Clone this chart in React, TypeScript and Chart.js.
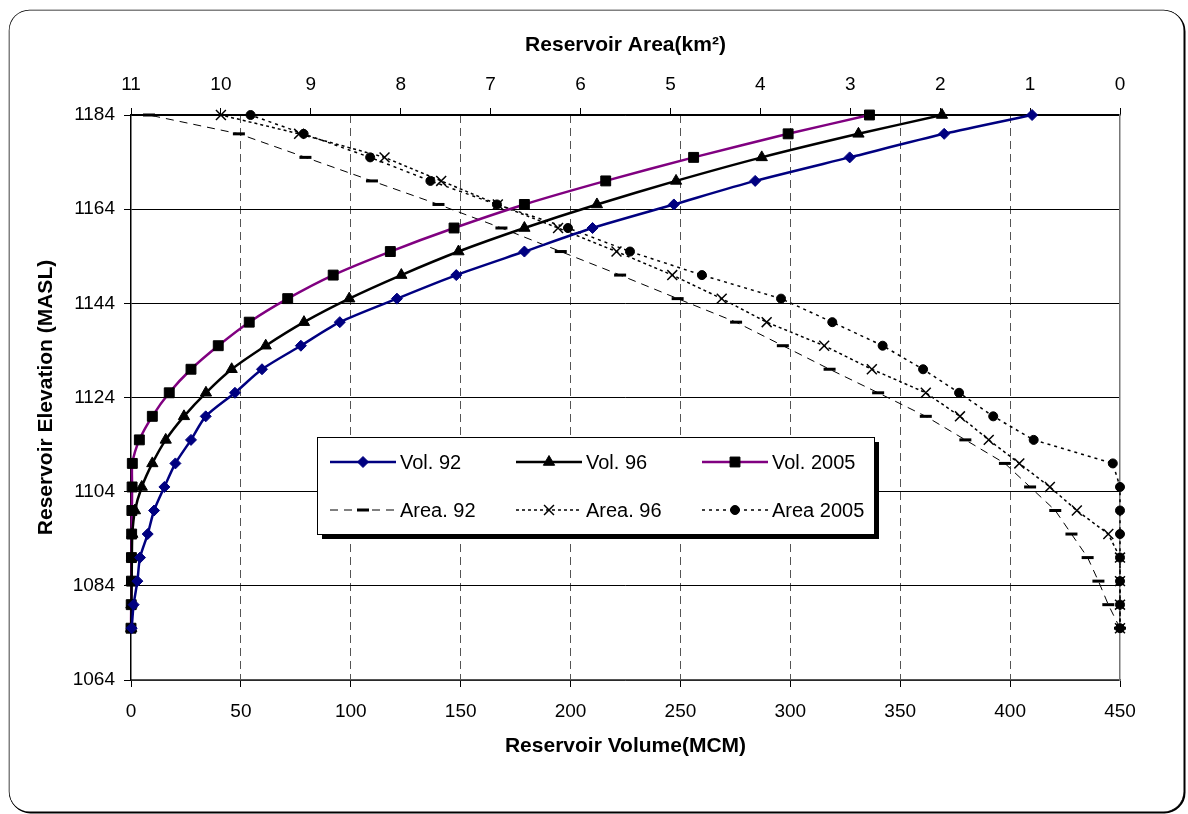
import React, { useEffect, useRef } from 'react';
import { Chart, registerables } from 'chart.js';
import { drawPoint } from 'chart.js/helpers';

Chart.register(...registerables);

// Elevation levels (MASL) for all series
const elevations = [1075, 1080, 1085, 1090, 1095, 1100, 1105, 1110, 1115, 1120, 1125, 1130, 1135, 1140, 1145, 1150, 1155, 1160, 1165, 1170, 1175, 1180, 1184];

// Reservoir volume (MCM)
const vol92 = [0.3, 1.2, 2.9, 4.1, 7.6, 10.5, 15.2, 20.2, 27.3, 34, 47.3, 59.6, 77.3, 95, 121, 148, 179, 210, 247, 284, 327, 370, 410];
const vol96 = [0.1, 0.2, 0.3, 0.4, 0.6, 1.8, 4.9, 9.7, 15.8, 24.1, 34.1, 45.8, 61.3, 78.7, 99.3, 123, 149, 179, 212, 248, 287, 331, 369];
const vol2005 = [0, 0.1, 0.2, 0.2, 0.3, 0.4, 0.5, 0.6, 3.8, 9.7, 17.4, 27.3, 39.7, 53.8, 71.3, 92, 118, 147, 179, 216, 256, 299, 336];

// Reservoir area (km2)
const area92 = [0, 0.13, 0.24, 0.36, 0.54, 0.72, 1.0, 1.28, 1.72, 2.16, 2.69, 3.23, 3.75, 4.27, 4.92, 5.56, 6.22, 6.88, 7.58, 8.32, 9.06, 9.8, 10.8];
const area96 = [0, 0, 0, 0, 0.13, 0.48, 0.78, 1.12, 1.46, 1.78, 2.16, 2.76, 3.29, 3.93, 4.43, 4.98, 5.6, 6.25, 6.92, 7.55, 8.18, 9.13, 10.0];
const area2005 = [0, 0, 0, 0, 0, 0, 0, 0.08, 0.96, 1.41, 1.79, 2.19, 2.64, 3.2, 3.77, 4.65, 5.45, 6.14, 6.93, 7.67, 8.34, 9.08, 9.67];

// Tick values
const volumeTicks = [0, 50, 100, 150, 200, 250, 300, 350, 400, 450];
const areaTicks = [0, 1, 2, 3, 4, 5, 6, 7, 8, 9, 10, 11];
const elevationTicks = [1064, 1084, 1104, 1124, 1144, 1164, 1184];

const seriesLabels = ['Vol. 92', 'Vol. 96', 'Vol. 2005', 'Area. 92', 'Area. 96', 'Area 2005'];

const FONT = '"Liberation Sans", Arial, Helvetica, sans-serif';

const toPoints = (xs: number[]) => xs.map((x, i) => ({ x, y: elevations[i] }));

const framePlugin = {
  id: 'frame',
  beforeDraw(chart: any) {
    const ctx = chart.ctx;
    ctx.save();
    ctx.fillStyle = '#fff';
    ctx.fillRect(0, 0, chart.width, chart.height);
    ctx.strokeStyle = '#000';
    ctx.lineWidth = 2;
    ctx.beginPath();
    ctx.roundRect(10.5, 11.5, 1174, 801, 20);
    ctx.stroke();
    ctx.lineWidth = 1.5;
    ctx.beginPath();
    ctx.roundRect(9.5, 10.5, 1174, 801, 20);
    ctx.stroke();
    ctx.fillStyle = '#fff';
    ctx.fill();
    ctx.restore();
  },
};

const legendPlugin = {
  id: 'boxLegend',
  afterDatasetsDraw(chart: any) {
    const ctx = chart.ctx;
    const l = 317, t = 437, w = 557, h = 97;
    ctx.save();
    ctx.fillStyle = '#000';
    ctx.fillRect(l + 5, t + 5, w, h);
    ctx.fillStyle = '#fff';
    ctx.fillRect(l, t, w, h);
    ctx.strokeStyle = '#000';
    ctx.lineWidth = 1;
    ctx.strokeRect(l + 0.5, t + 0.5, w, h);
    const cols = [330, 516, 702];
    const rows = [462, 510];
    chart.data.datasets.forEach((ds: any, i: number) => {
      const x0 = cols[i % 3];
      const y = rows[Math.floor(i / 3)];
      ctx.save();
      ctx.strokeStyle = ds.borderColor;
      ctx.lineWidth = ds.borderWidth;
      ctx.setLineDash(ds.borderDash || []);
      ctx.beginPath();
      ctx.moveTo(x0, y);
      ctx.lineTo(x0 + 66, y);
      ctx.stroke();
      ctx.setLineDash([]);
      ctx.fillStyle = ds.pointBackgroundColor;
      ctx.strokeStyle = ds.pointBorderColor;
      ctx.lineWidth = ds.pointBorderWidth;
      drawPoint(ctx, { pointStyle: ds.pointStyle, radius: ds.pointRadius, rotation: 0, borderWidth: ds.pointBorderWidth } as any, x0 + 33, y);
      ctx.fillStyle = '#000';
      ctx.font = '20px ' + FONT;
      ctx.textBaseline = 'middle';
      ctx.textAlign = 'left';
      ctx.fillText(ds.label, x0 + 70, y + 1);
      ctx.restore();
    });
    ctx.restore();
  },
};

export default function App() {
  const canvasRef = useRef<HTMLCanvasElement | null>(null);

  useEffect(() => {
    document.body.style.margin = '0';
    const canvas = canvasRef.current;
    if (!canvas) return;
    Chart.defaults.font.family = FONT;
    Chart.defaults.color = '#000';

    const plain = (v: any) => String(v);

    const chart = new Chart(canvas, {
      type: 'scatter',
      data: {
        datasets: [
          {
            label: seriesLabels[0], data: toPoints(vol92), xAxisID: 'x', yAxisID: 'y',
            showLine: true, borderColor: '#000080', borderWidth: 2.5, tension: 0.25,
            pointStyle: 'rectRot', pointRadius: 5.5, pointBackgroundColor: '#000080', pointBorderColor: '#000080', pointBorderWidth: 1, clip: false,
          },
          {
            label: seriesLabels[1], data: toPoints(vol96), xAxisID: 'x', yAxisID: 'y',
            showLine: true, borderColor: '#000', borderWidth: 2.5, tension: 0.25,
            pointStyle: 'triangle', pointRadius: 6.5, pointBackgroundColor: '#000', pointBorderColor: '#000', pointBorderWidth: 1, clip: false,
          },
          {
            label: seriesLabels[2], data: toPoints(vol2005), xAxisID: 'x', yAxisID: 'y',
            showLine: true, borderColor: '#800080', borderWidth: 2.5, tension: 0.25,
            pointStyle: 'rect', pointRadius: 7, pointBackgroundColor: '#000', pointBorderColor: '#000', pointBorderWidth: 1, clip: false,
          },
          {
            label: seriesLabels[3], data: toPoints(area92), xAxisID: 'x2', yAxisID: 'y',
            showLine: true, borderColor: '#000', borderWidth: 1, borderDash: [8, 6], tension: 0,
            pointStyle: 'line', pointRadius: 6, pointBackgroundColor: '#000', pointBorderColor: '#000', pointBorderWidth: 3, clip: false,
          },
          {
            label: seriesLabels[4], data: toPoints(area96), xAxisID: 'x2', yAxisID: 'y',
            showLine: true, borderColor: '#000', borderWidth: 1.5, borderDash: [3, 3], tension: 0,
            pointStyle: 'crossRot', pointRadius: 7, pointBackgroundColor: '#000', pointBorderColor: '#000', pointBorderWidth: 1.5, clip: false,
          },
          {
            label: seriesLabels[5], data: toPoints(area2005), xAxisID: 'x2', yAxisID: 'y',
            showLine: true, borderColor: '#000', borderWidth: 1.5, borderDash: [3, 4], tension: 0,
            pointStyle: 'circle', pointRadius: 4.5, pointBackgroundColor: '#000', pointBorderColor: '#000', pointBorderWidth: 1, clip: false,
          },
        ] as any,
      },
      options: {
        responsive: false,
        animation: false,
        events: [],
        layout: { padding: { left: 0, right: 68, top: 0, bottom: 0 } },
        plugins: { legend: { display: false }, tooltip: { enabled: false } },
        scales: {
          x: {
            type: 'linear', position: 'bottom', min: 0, max: 450,
            afterBuildTicks: (s: any) => { s.ticks = volumeTicks.map((v) => ({ value: v })); },
            afterFit: (s: any) => { s.height = 134; },
            grid: {
              color: (c: any) => (c.tick && (c.tick.value === 0 || c.tick.value === 450) ? 'rgba(0,0,0,0)' : '#555'),
              lineWidth: 1, tickLength: 7, tickColor: '#000', tickWidth: 1,
            },
            border: { color: '#555', width: 1.5, dash: [8, 5] },
            ticks: { color: '#000', font: { size: 19 }, padding: 13, maxRotation: 0, callback: plain },
            title: { display: true, text: 'Reservoir Volume(MCM)', color: '#000', font: { size: 21, weight: 'bold' }, padding: { top: 0, bottom: 55 } },
          },
          x2: {
            type: 'linear', position: 'top', min: 0, max: 11, reverse: true,
            afterBuildTicks: (s: any) => { s.ticks = areaTicks.map((v) => ({ value: v })); },
            afterFit: (s: any) => { s.height = 115; },
            grid: { drawOnChartArea: false, tickLength: 7, color: '#000', tickColor: '#000' },
            border: { color: '#000', width: 1.5 },
            ticks: { color: '#000', font: { size: 19 }, padding: 12, maxRotation: 0, callback: plain },
            title: { display: true, text: 'Reservoir Area(km²)', color: '#000', font: { size: 21, weight: 'bold' }, padding: { top: 33, bottom: 0 } },
          },
          y: {
            type: 'linear', position: 'left', min: 1064, max: 1184,
            afterBuildTicks: (s: any) => { s.ticks = elevationTicks.map((v) => ({ value: v })); },
            afterFit: (s: any) => { s.width = 131; },
            grid: { color: '#000', lineWidth: 1, tickLength: 7, tickColor: '#000' },
            border: { color: '#000', width: 1.5 },
            ticks: { color: '#000', font: { size: 19 }, padding: 9, callback: plain },
            title: { display: true, text: 'Reservoir Elevation (MASL)', color: '#000', font: { size: 21, weight: 'bold' }, padding: { top: 34, bottom: 0 } },
          },
          y2: {
            type: 'linear', position: 'right', min: 1064, max: 1184,
            afterFit: (s: any) => { s.width = 0; },
            ticks: { display: false },
            grid: { drawOnChartArea: false, drawTicks: false },
            border: { color: '#777', width: 1.5 },
          },
        },
      } as any,
      plugins: [framePlugin, legendPlugin],
    });
    return () => chart.destroy();
  }, []);

  return (
    <div style={{ width: 1188, height: 814 }}>
      <canvas ref={canvasRef} width={1188} height={814} style={{ display: 'block' }} />
    </div>
  );
}
